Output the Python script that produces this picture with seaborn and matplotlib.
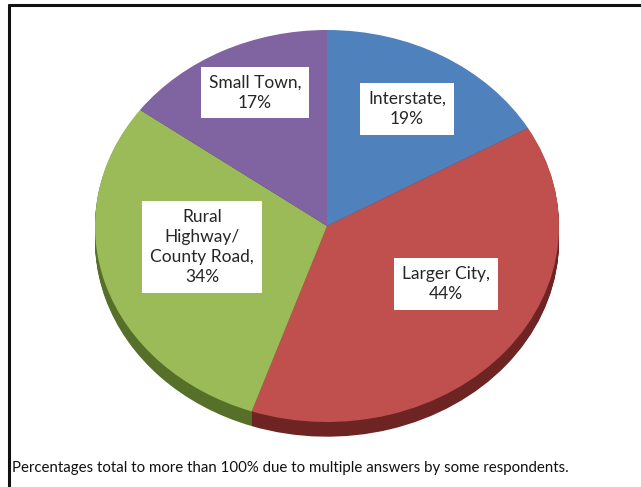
import matplotlib
matplotlib.use("Agg")
import matplotlib.pyplot as plt
from matplotlib.lines import Line2D
import seaborn as sns

# Where respondents travel (percent of respondents; multiple answers allowed)
categories = ["Interstate", "Larger City", "Rural\nHighway/\nCounty Road", "Small Town"]
percents = [19, 44, 34, 17]
note = "Percentages total to more than 100% due to multiple answers by some respondents."

top_colors = ["#4F81BD", "#C0504D", "#9BBB59", "#8064A2"]
side_colors = ["#2C4D74", "#6E2422", "#56702A", "#4A3763"]

sns.set_theme(style="white")
plt.rcParams["font.family"] = ["Lato", "DejaVu Sans"]

W, H = 641, 487
fig = plt.figure(figsize=(W / 100, H / 100), dpi=100)
fig.patch.set_facecolor("white")

# pie axes: x in [-1, 1] spans the ellipse width, y leaves room for the rim
px_left, px_right, px_top, px_bottom = 95, 559, 30, 442
ax = fig.add_axes([px_left / W, 1 - px_bottom / H,
                   (px_right - px_left) / W, (px_bottom - px_top) / H])

depth = 0.075
steps = 16
for i in range(steps, 0, -1):
    ax.pie(percents, colors=side_colors, startangle=90, counterclock=False,
           radius=1.0, center=(0, -depth * i / steps),
           wedgeprops=dict(linewidth=0, antialiased=True))

wedges, _ = ax.pie(percents, colors=top_colors, startangle=90, counterclock=False,
                   radius=1.0, center=(0, 0),
                   wedgeprops=dict(linewidth=0))

ax.set_aspect("auto")
ax.set_xlim(-1, 1)
ax.set_ylim(-1 - (px_bottom - px_top - 2 * 196) / 196, 1)
ax.axis("off")

# data labels in white boxes
label_xy = [(0.345, 0.597), (0.513, -0.296), (-0.539, -0.107), (-0.31, 0.68)]
for name, pct, (lx, ly) in zip(categories, percents, label_xy):
    ax.text(lx, ly, f"{name},\n{pct}%", ha="center", va="center",
            fontsize=12.5, color="#262626", linespacing=1.3,
            bbox=dict(boxstyle="square,pad=0.45", facecolor="white", edgecolor="none"))

fig.text(12 / W, 1 - 468 / H, note, ha="left", va="center",
         fontsize=10.8, color="#111111")

# outer frame: top and left rules
fig.add_artist(Line2D([8.5 / W, 1.0], [1 - 4.5 / H, 1 - 4.5 / H],
                      transform=fig.transFigure, color="#111111", linewidth=2.2))
fig.add_artist(Line2D([8.5 / W, 8.5 / W], [1 - 4.5 / H, 0.0],
                      transform=fig.transFigure, color="#111111", linewidth=2.2))

fig.savefig("out.png", dpi=100, facecolor="white")
